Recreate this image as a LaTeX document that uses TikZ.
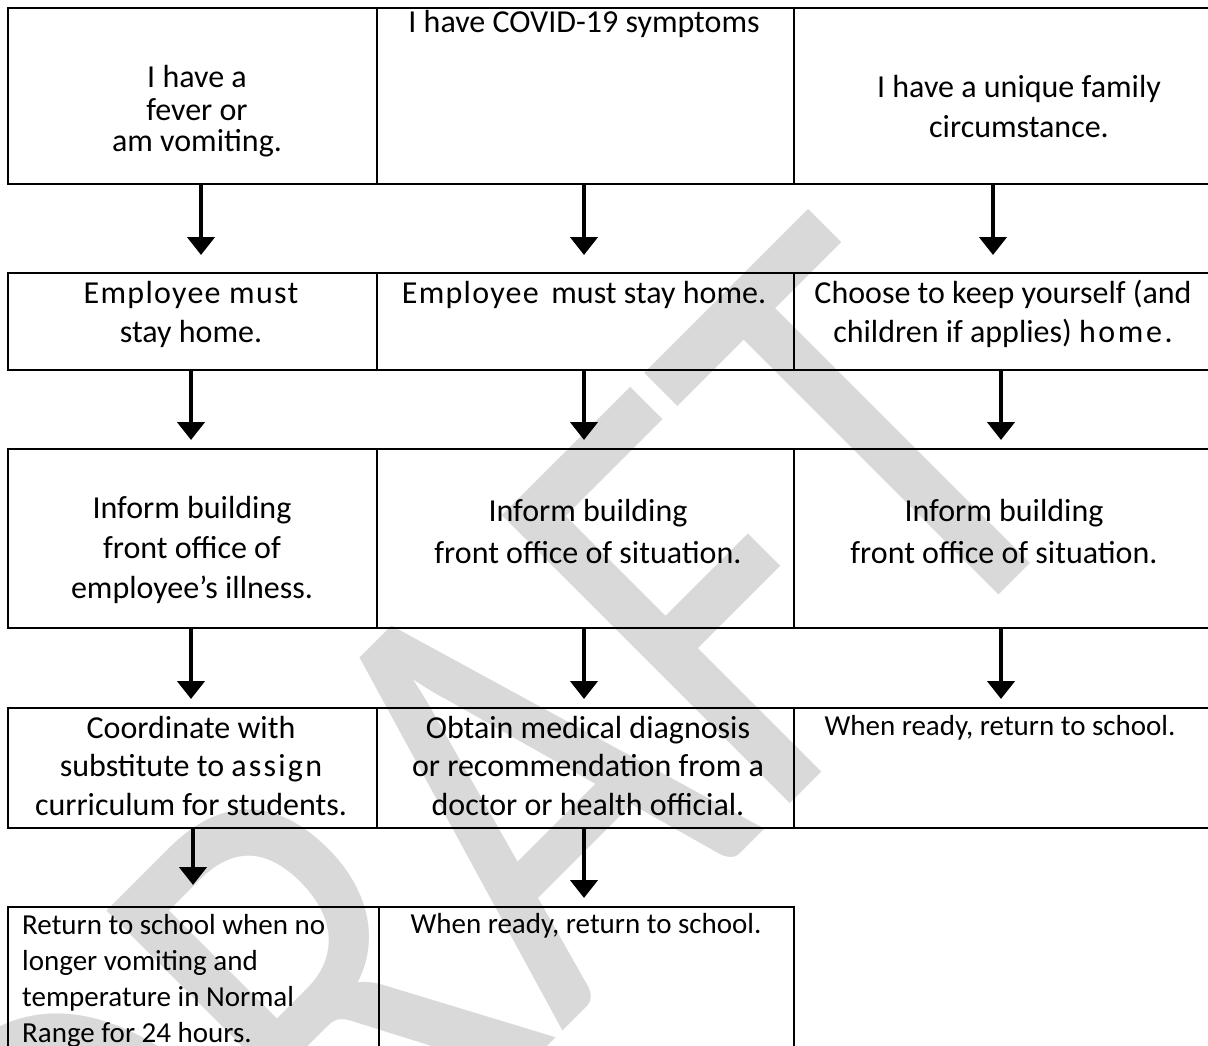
\documentclass[tikz,border=0pt]{standalone}
\usepackage{fontspec}
\setmainfont{Carlito}
\usetikzlibrary{arrows.meta}
\newcommand\spread[2][5]{{\addfontfeature{LetterSpace=#1}#2}}

\begin{document}
\begin{tikzpicture}[
  x={(1pt,0pt)},
  y={(0pt,-1pt)},
  cell/.style={draw, line width=2pt, anchor=north west, inner sep=0pt},
  txt/.style={align=center, anchor=base, inner sep=0pt,
    font=\fontsize{32}{39}\selectfont},
  small/.style={font=\fontsize{29}{36}\selectfont},
  down/.style={line width=4.5pt, -{Triangle[width=27pt,length=18pt]}},
  wmark/.style={text=black!15, rotate=45, inner sep=0pt,
    font=\fontsize{500}{500}\selectfont}
]
\path[use as bounding box, clip] (0,0) rectangle (1208,1046);

% watermark, behind the table
\node[wmark, anchor=base east] (draft) at (1101,493) {\scalebox{1}[1.27]{DRAFT}};

% boxes, row by row
\foreach \r/\y/\h in {1/7/176,2/272/97,3/448/179,4/707/120}
{
  \node[cell, minimum width=369pt, minimum height=\h pt] (a\r) at (7,\y) {};
  \node[cell, minimum width=417pt, minimum height=\h pt] (b\r) at (376,\y) {};
  \node[cell, minimum width=427pt, minimum height=\h pt] (c\r) at (793,\y) {};
}
\node[cell, minimum width=371pt, minimum height=160pt] (a5) at (7,906) {};
\node[cell, minimum width=415pt, minimum height=160pt] (b5) at (378,906) {};

% texts (base = last line)
\node[txt, font=\fontsize{32}{32}\selectfont] (fever) at (197,152)
  {I have a\\fever or\\am vomiting.};
\node[txt] (covid) at (584,33) {I have COVID-19 symptoms};
\node[txt, font=\fontsize{32}{40}\selectfont] (family) at (1019,138)
  {I have a unique family\\circumstance.};

\node[txt] (home1) at (191,342) {\spread[4]{Employee must}\\stay home.};
\node[txt] (home2) at (584,303) {\spread[4]{Employee} \,must stay home.};
\node[txt] (keep) at (1003,342)
  {Choose to keep yourself (and\\children if applies) \spread[8]{home.}};

\node[txt, font=\fontsize{32}{40}\selectfont] (inform1) at (192,598)
  {Inform building\\front office of\\employee’s illness.};
\node[txt, font=\fontsize{32}{42}\selectfont] (inform2) at (588,563)
  {Inform building\\front office of situation.};
\node[txt, font=\fontsize{32}{42}\selectfont] (inform3) at (1004,563)
  {Inform building\\front office of situation.};

\node[txt, font=\fontsize{32}{38.5}\selectfont] (coord) at (191,815)
  {Coordinate with\\substitute to \spread[7]{assign}\\curriculum for students.};
\node[txt, font=\fontsize{32}{38.5}\selectfont] (obtain) at (588,815)
  {Obtain medical diagnosis\\or recommendation from a\\doctor or health official.};
\node[txt, small] (ready3) at (1000,735) {When ready, return to school.};

\node[txt, small, align=left, anchor=base west] (back) at (22,1042)
  {Return to school when no\\longer vomiting and\\temperature in Normal\\Range for 24 hours.};
\node[txt, small] (ready2) at (586,933) {When ready, return to school.};

% arrows between the rows
\foreach \s/\t/\dx/\gap in {a1/a2/8.5/17, b1/b2/-1.5/17, c1/c2/-14.5/17,
  a2/a3/-1.5/8, b2/b3/-1.5/8, c2/c3/-6.5/8,
  a3/a4/-1.5/8, b3/b4/-1.5/8, c3/c4/-6.5/8,
  a4/a5/0.5/21, b4/b5/-1.5/8}
  \draw[down, shorten >=\gap pt] ([xshift=\dx pt]\s.south) -- ([xshift=\dx pt]\s.south |- \t.north);
\end{tikzpicture}
\end{document}
